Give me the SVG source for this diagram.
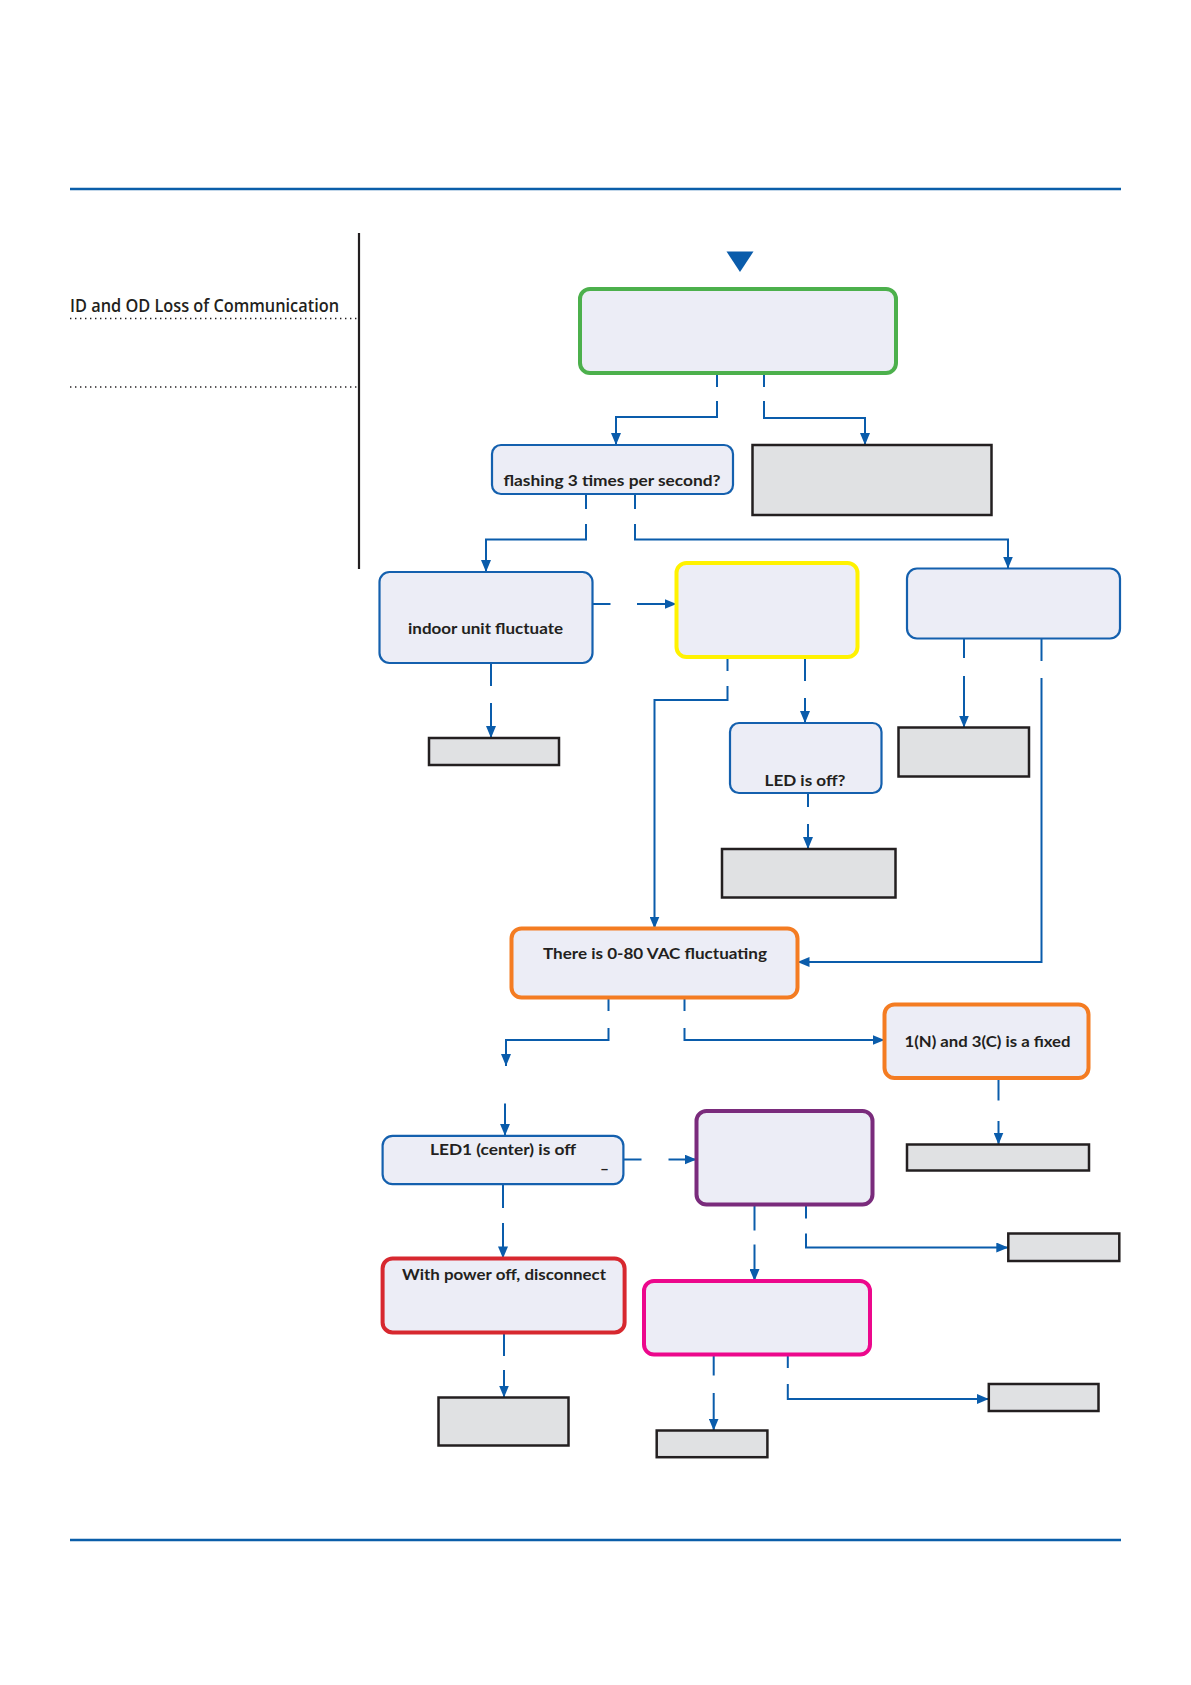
<svg xmlns="http://www.w3.org/2000/svg" width="1191" height="1685" viewBox="0 0 1191 1685">
<defs>
<marker id="ah" viewBox="0 0 12 10" refX="12" refY="5" markerWidth="12" markerHeight="10" markerUnits="userSpaceOnUse" orient="auto"><path d="M0,0 L12,5 L0,10 z" fill="#0a5cab"/></marker>
<style>
.node{fill:#ecedf6;}
.blue{stroke:#1460ae;stroke-width:2.2;}
.green{stroke:#4cb04c;stroke-width:4;}
.yellow{stroke:#fff200;stroke-width:4;}
.orange{stroke:#f47c22;stroke-width:4;}
.red{stroke:#d7282f;stroke-width:4;}
.purple{stroke:#7a2b7c;stroke-width:4;}
.magenta{stroke:#ec088c;stroke-width:4;}
.gray{fill:#e0e1e3;stroke:#231f20;stroke-width:2.5;}
.t{font-family:Lato,"Open Sans","Liberation Sans",sans-serif;font-weight:700;font-size:15.5px;fill:#231f20;text-anchor:middle;}
.c{fill:none;stroke:#0a5cab;stroke-width:2;}
.rule{stroke:#0a5ea9;stroke-width:2.5;}
.dot{stroke:#231f20;stroke-width:1.4;stroke-dasharray:1.4 3.6;}
</style>
</defs>
<rect width="1191" height="1685" fill="#ffffff"/>
<line class="rule" x1="70" y1="189" x2="1121" y2="189"/>
<line class="rule" x1="70" y1="1540" x2="1121" y2="1540"/>
<text x="70" y="311.5" font-family="'Open Sans','Liberation Sans',sans-serif" font-weight="600" font-size="18" fill="#231f20" textLength="269" lengthAdjust="spacingAndGlyphs">ID and OD Loss of Communication</text>
<line class="dot" x1="70" y1="318.5" x2="358" y2="318.5"/>
<line class="dot" x1="70" y1="387" x2="358" y2="387"/>
<line x1="359" y1="233" x2="359" y2="569" stroke="#231f20" stroke-width="2.2"/>
<polygon points="726.5,251.5 753.5,251.5 740,272" fill="#0a5cab"/>
<g id="connectors">
<path class="c" d="M717,373 V387"/><path class="c" d="M717,401 V417 H616 V445" marker-end="url(#ah)"/>
<path class="c" d="M764,373 V387"/><path class="c" d="M764,401 V418 H865 V445" marker-end="url(#ah)"/>
<path class="c" d="M586,494 V509"/><path class="c" d="M586,524 V539.5 H486 V572" marker-end="url(#ah)"/>
<path class="c" d="M635,494 V509"/><path class="c" d="M635,524 V539.5 H1008 V568.5" marker-end="url(#ah)"/>
<path class="c" d="M592,604 H610.5"/><path class="c" d="M637,604 H676.5" marker-end="url(#ah)"/>
<path class="c" d="M491,663 V686"/><path class="c" d="M491,703 V738" marker-end="url(#ah)"/>
<path class="c" d="M727.5,657 V671"/><path class="c" d="M727.5,686 V700 H654.5 V928.5" marker-end="url(#ah)"/>
<path class="c" d="M805,657 V681"/><path class="c" d="M805,698 V723" marker-end="url(#ah)"/>
<path class="c" d="M808,793 V807"/><path class="c" d="M808,824 V849" marker-end="url(#ah)"/>
<path class="c" d="M964,638.5 V658"/><path class="c" d="M964,676 V727.5" marker-end="url(#ah)"/>
<path class="c" d="M1041.5,638.5 V661"/><path class="c" d="M1041.5,678 V962 H797.5" marker-end="url(#ah)"/>
<path class="c" d="M608.5,997.5 V1011"/><path class="c" d="M608.5,1028 V1040 H506 V1066" marker-end="url(#ah)"/>
<path class="c" d="M505,1103.5 V1135.8" marker-end="url(#ah)"/>
<path class="c" d="M684.5,997.5 V1011"/><path class="c" d="M684.5,1028 V1040 H884.5" marker-end="url(#ah)"/>
<path class="c" d="M998.5,1078 V1100.5"/><path class="c" d="M998.5,1121 V1144.5" marker-end="url(#ah)"/>
<path class="c" d="M623.4,1159.5 H641.5"/><path class="c" d="M668.5,1159.5 H696.5" marker-end="url(#ah)"/>
<path class="c" d="M503,1184 V1208"/><path class="c" d="M503,1223 V1258.4" marker-end="url(#ah)"/>
<path class="c" d="M504,1332.6 V1356"/><path class="c" d="M504,1370 V1397.5" marker-end="url(#ah)"/>
<path class="c" d="M754.5,1204.5 V1230.5"/><path class="c" d="M754.5,1244.5 V1281" marker-end="url(#ah)"/>
<path class="c" d="M806,1204.5 V1218.5"/><path class="c" d="M806,1233.5 V1247.5 H1008.3" marker-end="url(#ah)"/>
<path class="c" d="M713.7,1354.5 V1375.5"/><path class="c" d="M713.7,1393 V1430.5" marker-end="url(#ah)"/>
<path class="c" d="M787.8,1354.5 V1368"/><path class="c" d="M787.8,1384 V1399 H988.8" marker-end="url(#ah)"/>
</g>
<g id="n1"><rect class="node green" x="580" y="289" width="316" height="84" rx="10"/></g>
<g id="n2"><rect class="node blue" x="492" y="445" width="241" height="49" rx="9"/><text class="t" x="612" y="486" textLength="217" lengthAdjust="spacingAndGlyphs">flashing 3 times per second?</text></g>
<g id="n3"><rect class="gray" x="752.5" y="445" width="239" height="70"/></g>
<g id="n4"><rect class="node blue" x="379.5" y="572" width="213" height="91" rx="10"/><text class="t" x="485.5" y="634" textLength="155" lengthAdjust="spacingAndGlyphs">indoor unit fluctuate</text></g>
<g id="n5"><rect class="node yellow" x="676.5" y="563" width="181" height="94" rx="10"/></g>
<g id="n6"><rect class="node blue" x="907" y="568.5" width="213" height="70" rx="10"/></g>
<g id="n7"><rect class="gray" x="429" y="738" width="130" height="27"/></g>
<g id="n8"><rect class="node blue" x="730" y="723" width="151.5" height="70" rx="9"/><text class="t" x="805" y="785.5" textLength="81" lengthAdjust="spacingAndGlyphs">LED is off?</text></g>
<g id="n9"><rect class="gray" x="722" y="849" width="173.5" height="48.5"/></g>
<g id="n10"><rect class="gray" x="898.5" y="727.5" width="130.5" height="49"/></g>
<g id="n11"><rect class="node orange" x="511.5" y="928.5" width="286" height="69" rx="10"/><text class="t" x="655" y="958.6" textLength="224" lengthAdjust="spacingAndGlyphs">There is 0-80 VAC fluctuating</text></g>
<g id="n12"><rect class="node orange" x="884.5" y="1004.5" width="204" height="73.5" rx="10"/><text class="t" x="987.5" y="1047" textLength="166" lengthAdjust="spacingAndGlyphs">1(N) and 3(C) is a fixed</text></g>
<g id="n13"><rect class="gray" x="907" y="1144.5" width="182" height="26"/></g>
<g id="n14"><rect class="node blue" x="382.6" y="1135.8" width="240.8" height="48.4" rx="10"/><text class="t" x="503" y="1155" textLength="146" lengthAdjust="spacingAndGlyphs">LED1 (center) is off</text><text class="t" x="604.5" y="1174" font-size="14" font-weight="400">–</text></g>
<g id="n15"><rect class="node purple" x="696.5" y="1111" width="176" height="93.5" rx="10"/></g>
<g id="n16"><rect class="node red" x="382.6" y="1258.4" width="242" height="74" rx="10"/><text class="t" x="504" y="1280" textLength="204" lengthAdjust="spacingAndGlyphs">With power off, disconnect</text></g>
<g id="n17"><rect class="gray" x="438.5" y="1397.5" width="130" height="48"/></g>
<g id="n18"><rect class="gray" x="1008.3" y="1233.5" width="111" height="27.5"/></g>
<g id="n19"><rect class="node magenta" x="644" y="1281" width="226" height="73.5" rx="10"/></g>
<g id="n20"><rect class="gray" x="656.7" y="1430.5" width="110.7" height="26.7"/></g>
<g id="n21"><rect class="gray" x="988.8" y="1384" width="109.7" height="27"/></g>
</svg>
